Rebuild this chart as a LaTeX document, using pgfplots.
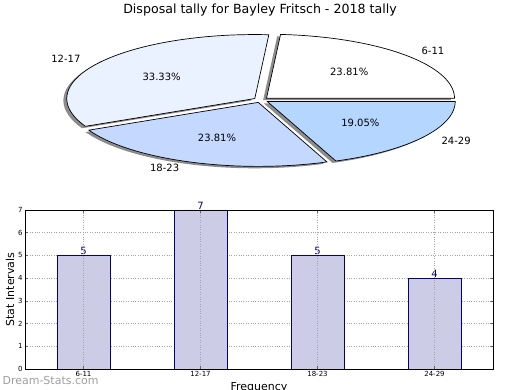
\documentclass[border=0pt]{standalone}
\usepackage{pgfplots}
\pgfplotsset{compat=1.18}
\usepackage{fontspec}
\setmainfont{DejaVu Sans}
\definecolor{cA}{RGB}{255,255,255}
\definecolor{cB}{RGB}{235,242,255}
\definecolor{cC}{RGB}{197,216,255}
\definecolor{cD}{RGB}{180,214,255}
\definecolor{barfill}{RGB}{204,204,230}
\definecolor{navy}{RGB}{0,0,128}
\definecolor{shadowc}{RGB}{140,140,140}
\begin{document}
\begin{tikzpicture}
\useasboundingbox (0,0) rectangle (520pt,390pt);
% pie data
\def\va{5}\def\vb{7}\def\vc{5}\def\vd{4}
\pgfmathsetmacro{\tot}{\va+\vb+\vc+\vd}
\pgfmathsetmacro{\sA}{0}
\pgfmathsetmacro{\eA}{360*\va/\tot}
\pgfmathsetmacro{\eB}{\eA+360*\vb/\tot}
\pgfmathsetmacro{\eC}{\eB+360*\vc/\tot}
\pgfmathsetmacro{\eD}{360}
\pgfmathsetmacro{\mA}{(\sA+\eA)/2}
\pgfmathsetmacro{\mB}{(\eA+\eB)/2}
\pgfmathsetmacro{\mC}{(\eB+\eC)/2}
\pgfmathsetmacro{\mD}{(\eC+\eD)/2}
\def\ex{0.04}
\foreach \n in {A,B,C,D}{%
  \pgfmathsetmacro{\tmpx}{\ex*cos(\csname m\n\endcsname)}%
  \pgfmathsetmacro{\tmpy}{\ex*sin(\csname m\n\endcsname)}%
  \expandafter\xdef\csname ox\n\endcsname{\tmpx}%
  \expandafter\xdef\csname oy\n\endcsname{\tmpy}%
  \pgfmathsetmacro{\tmpx}{\tmpx-0.018}%
  \pgfmathsetmacro{\tmpy}{\tmpy-0.03}%
  \expandafter\xdef\csname sx\n\endcsname{\tmpx}%
  \expandafter\xdef\csname sy\n\endcsname{\tmpy}%
  \pgfmathsetmacro{\tmpx}{\csname ox\n\endcsname+1.1*cos(\csname m\n\endcsname)}%
  \pgfmathsetmacro{\tmpy}{\csname oy\n\endcsname+1.1*sin(\csname m\n\endcsname)}%
  \expandafter\xdef\csname lx\n\endcsname{\tmpx}%
  \expandafter\xdef\csname ly\n\endcsname{\tmpy}%
  \pgfmathsetmacro{\tmpx}{\csname ox\n\endcsname+0.6*cos(\csname m\n\endcsname)}%
  \pgfmathsetmacro{\tmpy}{\csname oy\n\endcsname+0.6*sin(\csname m\n\endcsname)}%
  \expandafter\xdef\csname px\n\endcsname{\tmpx}%
  \expandafter\xdef\csname py\n\endcsname{\tmpy}%
}
\node[font=\fontsize{12.6}{14}\selectfont] at (260pt,380pt) {Disposal tally for Bayley Fritsch - 2018 tally};
\begin{axis}[at={(261pt,290pt)}, anchor=center, x=188pt, y=64pt,
  xmin=-1.3, xmax=1.3, ymin=-1.2, ymax=1.2, hide axis, clip=false, scale only axis]
% shadows
\addplot[draw=none, fill=shadowc, domain=\sA:\eA, samples=60, variable=\t] ({\sxA+cos(\t)},{\syA+sin(\t)}) -- (\sxA,\syA) -- cycle;
\addplot[draw=none, fill=shadowc, domain=\eA:\eB, samples=60, variable=\t] ({\sxB+cos(\t)},{\syB+sin(\t)}) -- (\sxB,\syB) -- cycle;
\addplot[draw=none, fill=shadowc, domain=\eB:\eC, samples=60, variable=\t] ({\sxC+cos(\t)},{\syC+sin(\t)}) -- (\sxC,\syC) -- cycle;
\addplot[draw=none, fill=shadowc, domain=\eC:\eD, samples=60, variable=\t] ({\sxD+cos(\t)},{\syD+sin(\t)}) -- (\sxD,\syD) -- cycle;
% slices
\addplot[draw=black, line width=0.7pt, fill=cA, domain=\sA:\eA, samples=60, variable=\t] ({\oxA+cos(\t)},{\oyA+sin(\t)}) -- (\oxA,\oyA) -- cycle;
\addplot[draw=black, line width=0.7pt, fill=cB, domain=\eA:\eB, samples=60, variable=\t] ({\oxB+cos(\t)},{\oyB+sin(\t)}) -- (\oxB,\oyB) -- cycle;
\addplot[draw=black, line width=0.7pt, fill=cC, domain=\eB:\eC, samples=60, variable=\t] ({\oxC+cos(\t)},{\oyC+sin(\t)}) -- (\oxC,\oyC) -- cycle;
\addplot[draw=black, line width=0.7pt, fill=cD, domain=\eC:\eD, samples=60, variable=\t] ({\oxD+cos(\t)},{\oyD+sin(\t)}) -- (\oxD,\oyD) -- cycle;
% labels
\node[anchor=west, font=\fontsize{10}{12}\selectfont] at (axis cs:\lxA,\lyA) {6-11};
\node[anchor=east, font=\fontsize{10}{12}\selectfont] at (axis cs:\lxB,\lyB) {12-17};
\node[anchor=east, font=\fontsize{10}{12}\selectfont] at (axis cs:\lxC,\lyC) {18-23};
\node[anchor=west, font=\fontsize{10}{12}\selectfont] at (axis cs:\lxD,\lyD) {24-29};
\node[font=\fontsize{10}{12}\selectfont] at (axis cs:\pxA,\pyA) {23.81\%};
\node[font=\fontsize{10}{12}\selectfont] at (axis cs:\pxB,\pyB) {33.33\%};
\node[font=\fontsize{10}{12}\selectfont] at (axis cs:\pxC,\pyC) {23.81\%};
\node[font=\fontsize{10}{12}\selectfont] at (axis cs:\pxD,\pyD) {19.05\%};
\end{axis}
% bar chart
\begin{axis}[at={(25pt,21pt)}, anchor=south west, width=468pt, height=159pt, scale only axis,
  xmin=-0.5, xmax=3.5, ymin=0, ymax=7,
  xtick={0,1,2,3}, xticklabels={6-11,12-17,18-23,24-29},
  ytick={0,1,2,3,4,5,6,7},
  /pgf/number format/assume math mode=true,
  ymajorgrids, grid style={dotted, gray!70, line width=0.5pt},
  tick align=inside, major tick length=3pt,
  tick style={black!60, line width=0.5pt},
  axis line style={black, line width=0.8pt},
  ticklabel style={font=\fontsize{7}{8}\selectfont},
  xticklabel style={yshift=1pt},
  yticklabel style={xshift=1pt},
  ylabel={Stat Intervals}, xlabel={Frequency},
  ylabel style={at={(axis description cs:-0.032,0.5)}, anchor=center, font=\fontsize{11}{13}\selectfont},
  xlabel style={at={(axis description cs:0.5,0)}, anchor=center, yshift=-19pt, font=\fontsize{11}{13}\selectfont},
  clip=false]
\addplot[ybar, bar width=0.45, fill=barfill, draw=navy, line width=0.6pt,
  nodes near coords,
  every node near coord/.append style={font=\fontsize{10}{12}\selectfont, text=navy, anchor=south, inner sep=0.5pt}]
  coordinates {(0,5) (1,7) (2,5) (3,4)};
\end{axis}
\begin{axis}[at={(25pt,21pt)}, anchor=south west, width=468pt, height=159pt, scale only axis,
  xmin=-0.5, xmax=3.5, ymin=0, ymax=7,
  xtick={0,1,2,3}, xticklabels={}, ytick={0,1,2,3,4,5,6,7}, yticklabels={},
  xmajorgrids, grid style={dotted, gray!70, line width=0.5pt},
  tick align=inside, major tick length=3pt,
  tick style={black!60, line width=0.5pt},
  axis line style={black, line width=0.8pt}]
\end{axis}
\node[anchor=west, text=gray!75, font=\fontsize{11}{13}\selectfont] at (-1pt,9pt) {Dream-Stats.com};
\end{tikzpicture}
\end{document}
